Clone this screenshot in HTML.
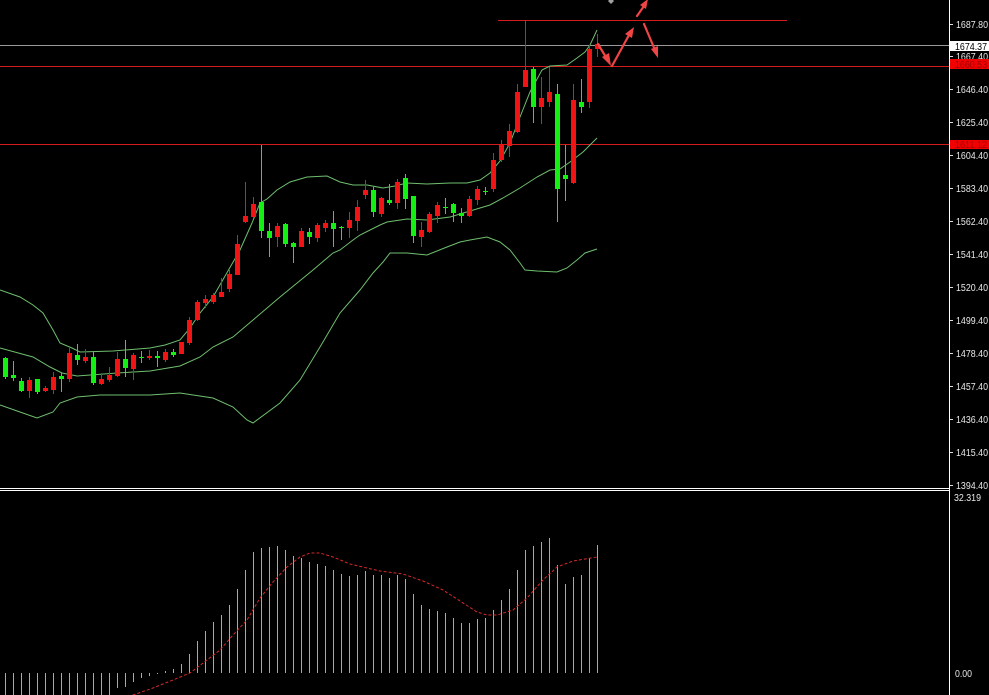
<!DOCTYPE html>
<html><head><meta charset="utf-8"><style>
html,body{margin:0;padding:0;background:#000;}
svg{display:block;}
text{font-family:"Liberation Sans",sans-serif;font-size:10px;}
</style></head><body>
<svg width="989" height="695" viewBox="0 0 989 695" xmlns="http://www.w3.org/2000/svg">
<rect x="0" y="0" width="989" height="695" fill="#000"/>
<rect x="0" y="45" width="949" height="1" fill="#9a9a9a"/>
<rect x="0" y="66" width="949" height="1" fill="#d41c1c"/>
<rect x="0" y="144" width="949" height="1" fill="#d41c1c"/>
<rect x="498" y="20" width="289" height="1" fill="#d41c1c"/>
<g fill="none" stroke="#6fbf6f" stroke-width="1">
<polyline points="0,290 20,297 33,305 43,313 53,330 60,343 72,348 80,352 113,351 150,348 165,345 180,340 190,328 200,313 213,297 240,250 252,223 260,203 267,199 277,190 290,182 307,177 327,176 340,182 353,185 367,185 383,188 395,186 407,183 427,184 450,183 467,183 480,180 490,173 500,161 510,143 520,117 530,92 542,70 550,66 567,65 577,58 585,52 590,45 597,30"/>
<polyline points="0,348 33,357 50,367 62,373 77,376 117,373 150,371 180,366 200,357 213,347 233,337 253,320 280,297 313,270 333,253 340,250 353,240 360,235 380,225 387,222 407,219 427,220 450,217 470,211 490,205 503,198 520,188 537,177 550,170 560,169 570,162 583,152 597,138"/>
<polyline points="0,405 20,412 37,418 53,412 60,403 77,397 100,395 150,395 180,393 213,398 233,407 247,420 253,423 280,403 300,380 320,347 340,313 360,290 373,273 383,262 390,253 407,253 427,255 447,247 460,242 470,240 487,237 500,242 510,250 520,263 525,270 537,271 557,272 567,268 577,260 585,253 597,249"/>
</g>
<path fill="none" stroke="#f01414" stroke-width="1" d="M29.5 377V398M45.5 386V392M53.5 372V394M69.5 348V382M85.5 349V363M101.5 373V385M109.5 367V382M117.5 352V377M133.5 353V380M149.5 350V360M165.5 349V362M181.5 342V354M189.5 317V345M197.5 300V321M205.5 295V308M213.5 293V304M221.5 278V297M229.5 270V292M237.5 235V275M245.5 182V223M253.5 197V218M277.5 223V247M301.5 228V247M317.5 223V242M325.5 220V232M349.5 212V238M357.5 200V231M365.5 180V199M381.5 197V217M397.5 179V209M421.5 222V247M429.5 212V233M437.5 202V223M469.5 196V217M477.5 186V205M493.5 153V192M501.5 140V162M509.5 124V157M517.5 84V133M525.5 20V87M541.5 77V124M549.5 67V107M573.5 84V184M589.5 45V108M597.5 34V57"/>
<path fill="#f01414" d="M27 380h5v11h-5zM43 388h5v3h-5zM51 377h5v13h-5zM67 353h5v26h-5zM83 357h5v4h-5zM99 379h5v5h-5zM107 375h5v5h-5zM115 359h5v17h-5zM131 355h5v14h-5zM147 356h5v2h-5zM163 352h5v8h-5zM179 342h5v12h-5zM187 320h5v23h-5zM195 302h5v18h-5zM203 299h5v4h-5zM211 295h5v7h-5zM219 292h5v5h-5zM227 274h5v15h-5zM235 244h5v31h-5zM243 216h5v6h-5zM251 204h5v13h-5zM275 226h5v11h-5zM299 231h5v16h-5zM315 225h5v13h-5zM323 223h5v5h-5zM347 220h5v8h-5zM355 207h5v14h-5zM363 190h5v5h-5zM379 198h5v16h-5zM395 182h5v21h-5zM419 230h5v7h-5zM427 214h5v18h-5zM435 205h5v11h-5zM467 199h5v17h-5zM475 189h5v11h-5zM491 160h5v29h-5zM499 144h5v16h-5zM507 131h5v15h-5zM515 92h5v40h-5zM523 70h5v17h-5zM539 98h5v9h-5zM547 92h5v10h-5zM571 100h5v83h-5zM587 49h5v53h-5zM595 44h5v5h-5z"/>
<path fill="none" stroke="#14f014" stroke-width="1" d="M5.5 357V379M13.5 361V381M21.5 378V392M37.5 379V394M61.5 373V392M77.5 344V365M93.5 351V385M125.5 340V377M141.5 351V363M157.5 351V367M173.5 349V357M261.5 145V238M269.5 223V257M285.5 223V247M293.5 242V263M309.5 228V244M333.5 211V247M341.5 226V240M373.5 187V217M389.5 184V205M405.5 174V209M413.5 196V243M445.5 198V214M453.5 203V222M461.5 208V223M485.5 187V195M533.5 67V123M557.5 84V222M565.5 145V201M581.5 79V113"/>
<path fill="#14f014" d="M3 358h5v19h-5zM11 375h5v3h-5zM19 381h5v10h-5zM35 379h5v13h-5zM59 376h5v3h-5zM75 355h5v5h-5zM91 357h5v26h-5zM123 359h5v9h-5zM139 357h5v1h-5zM155 356h5v2h-5zM171 352h5v3h-5zM259 202h5v29h-5zM267 231h5v7h-5zM283 224h5v20h-5zM291 243h5v4h-5zM307 232h5v5h-5zM331 223h5v6h-5zM339 227h5v1h-5zM371 190h5v22h-5zM387 200h5v3h-5zM403 178h5v21h-5zM411 196h5v40h-5zM443 207h5v1h-5zM451 204h5v9h-5zM459 213h5v3h-5zM483 191h5v1h-5zM531 69h5v38h-5zM555 94h5v95h-5zM563 175h5v4h-5zM579 102h5v5h-5z"/>
<g stroke="#f04545" stroke-width="2.2" fill="#f04545" stroke-linecap="round">
<line x1="598" y1="44" x2="607" y2="59"/>
<polygon points="611,66 602,57 609,53" stroke="none"/>
<line x1="612" y1="66" x2="629" y2="35"/>
<polygon points="634,27 625,34 632,38" stroke="none"/>
<line x1="637" y1="16" x2="644" y2="6"/>
<polygon points="648,-1 640,5 646,9" stroke="none"/>
<line x1="644" y1="24" x2="655" y2="50"/>
<polygon points="658,58 651,49 658,46" stroke="none"/>
</g>
<polygon points="611,-2 614,1 611,4 608,1" fill="#a0a0a0"/>
<rect x="0" y="488" width="949" height="1" fill="#fff"/>
<rect x="0" y="490" width="949" height="1" fill="#fff"/>
<rect x="949" y="0" width="1" height="695" fill="#fff"/>
<line x1="5" y1="684" x2="114" y2="684" stroke="#78d060" stroke-width="22" stroke-dasharray="1 7"/>
<path fill="none" stroke="#78d060" stroke-width="1" d="M117.5 673V688M125.5 673V687M133.5 673V682M141.5 673V678M149.5 673V676M157.5 673V674M165.5 673V671M173.5 673V669M181.5 673V664M189.5 673V654M197.5 673V641M205.5 673V631M213.5 673V622M221.5 673V615M229.5 673V605M237.5 673V589M245.5 673V570M253.5 673V552M261.5 673V548M269.5 673V547M277.5 673V546M285.5 673V550M293.5 673V556M301.5 673V558M309.5 673V562M317.5 673V564M325.5 673V566M333.5 673V570M341.5 673V574M349.5 673V576M357.5 673V575M365.5 673V571M373.5 673V575M381.5 673V575M389.5 673V578M397.5 673V575M405.5 673V579M413.5 673V594M421.5 673V605M429.5 673V609M437.5 673V611M445.5 673V613M453.5 673V618M461.5 673V623M469.5 673V623M477.5 673V619M485.5 673V618M493.5 673V610M501.5 673V600M509.5 673V589M517.5 673V570M525.5 673V550M533.5 673V546M541.5 673V542M549.5 673V538M557.5 673V565M565.5 673V584M573.5 673V577M581.5 673V575M589.5 673V558M597.5 673V545"/>
<polyline fill="none" stroke="#d42a2a" stroke-width="1" stroke-dasharray="3,2" points="128,697 133,695 153,688 173,680 190,673 207,660 220,650 233,635 247,620 260,598 273,582 287,567 300,557 310,553 320,553 333,557 350,564 367,568 380,571 403,574 423,581 443,590 460,601 477,612 487,615 497,615 513,610 527,598 543,580 557,567 573,561 597,557"/>
<path fill="none" stroke="#ddd" stroke-width="1" d="M950 24.5h3M950 56.5h3M950 89.5h3M950 122.5h3M950 155.5h3M950 188.5h3M950 221.5h3M950 254.5h3M950 287.5h3M950 320.5h3M950 353.5h3M950 386.5h3M950 419.5h3M950 452.5h3M950 485.5h3"/>
<g fill="#e8e8e8">
<text x="956" y="28" textLength="32" lengthAdjust="spacingAndGlyphs">1687.80</text>
<text x="956" y="60" textLength="32" lengthAdjust="spacingAndGlyphs">1667.40</text>
<text x="956" y="93" textLength="32" lengthAdjust="spacingAndGlyphs">1646.40</text>
<text x="956" y="126" textLength="32" lengthAdjust="spacingAndGlyphs">1625.40</text>
<text x="956" y="159" textLength="32" lengthAdjust="spacingAndGlyphs">1604.40</text>
<text x="956" y="192" textLength="32" lengthAdjust="spacingAndGlyphs">1583.40</text>
<text x="956" y="225" textLength="32" lengthAdjust="spacingAndGlyphs">1562.40</text>
<text x="956" y="258" textLength="32" lengthAdjust="spacingAndGlyphs">1541.40</text>
<text x="956" y="291" textLength="32" lengthAdjust="spacingAndGlyphs">1520.40</text>
<text x="956" y="324" textLength="32" lengthAdjust="spacingAndGlyphs">1499.40</text>
<text x="956" y="357" textLength="32" lengthAdjust="spacingAndGlyphs">1478.40</text>
<text x="956" y="390" textLength="32" lengthAdjust="spacingAndGlyphs">1457.40</text>
<text x="956" y="423" textLength="32" lengthAdjust="spacingAndGlyphs">1436.40</text>
<text x="956" y="456" textLength="32" lengthAdjust="spacingAndGlyphs">1415.40</text>
<text x="956" y="489" textLength="32" lengthAdjust="spacingAndGlyphs">1394.40</text>
<text x="954" y="501" textLength="27" lengthAdjust="spacingAndGlyphs">32.319</text>
<text x="955" y="677" textLength="17" lengthAdjust="spacingAndGlyphs">0.00</text>
</g>
<rect x="950" y="41" width="39" height="10" fill="#fff"/>
<text x="955" y="50" fill="#000" textLength="32" lengthAdjust="spacingAndGlyphs">1674.37</text>
<rect x="950" y="59" width="39" height="10" fill="#f00000"/>
<text x="955" y="68" fill="#a00000" textLength="32" lengthAdjust="spacingAndGlyphs">1660.53</text>
<rect x="950" y="140" width="39" height="9" fill="#f00000"/>
<text x="955" y="148" fill="#a00000" textLength="32" lengthAdjust="spacingAndGlyphs">1611.12</text>
</svg>
</body></html>
